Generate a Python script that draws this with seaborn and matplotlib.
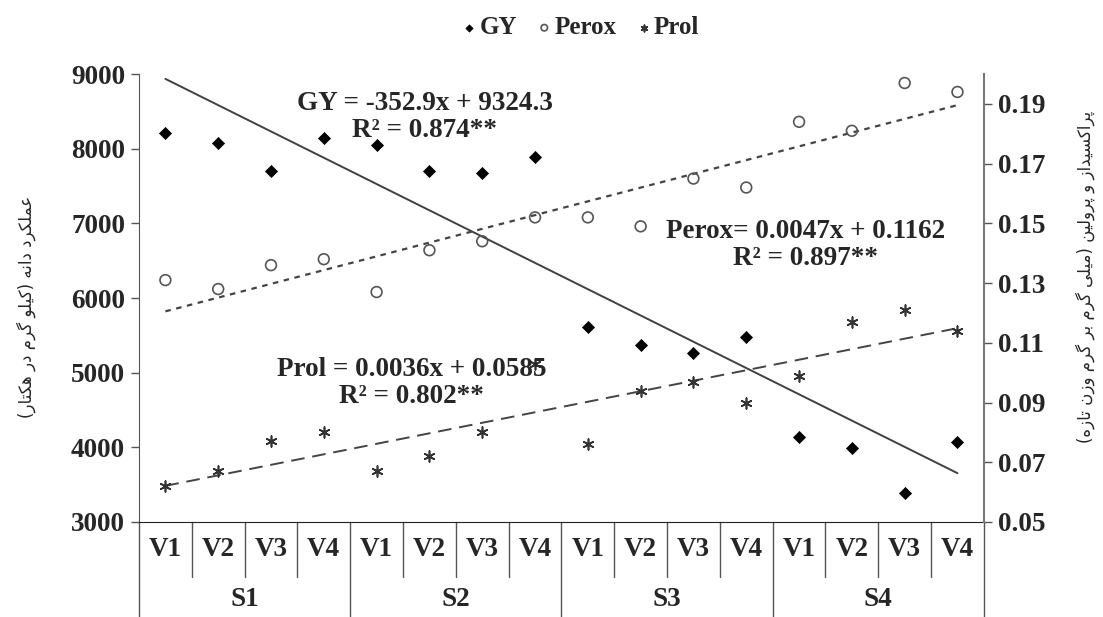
import numpy as np
import pandas as pd
import matplotlib
matplotlib.use('Agg')
import matplotlib.pyplot as plt
import seaborn as sns

# salinity levels (S) x cultivars (V)
groups = ['S1', 'S2', 'S3', 'S4']
levels = ['V1', 'V2', 'V3', 'V4']

# grain yield (kg/ha), left axis
gy = [8213, 8071, 7700, 8138, 8048, 7700, 7677, 7883,
      5609, 5367, 5260, 5475, 4134, 3987, 3383, 4067]
# peroxidase and proline, right axis
perox = [0.131, 0.128, 0.136, 0.138, 0.127, 0.141, 0.144, 0.152,
         0.152, 0.149, 0.165, 0.162, 0.184, 0.181, 0.197, 0.194]
prol = [0.062, 0.067, 0.077, 0.080, 0.067, 0.072, 0.080, 0.103,
        0.076, 0.094, 0.097, 0.090, 0.099, 0.117, 0.121, 0.114]

eq_gy = 'GY = -352.9x + 9324.3\nR² = 0.874**'
eq_perox = 'Perox= 0.0047x + 0.1162\nR² = 0.897**'
eq_prol = 'Prol = 0.0036x + 0.0585\nR² = 0.802**'

ylabel_left = 'عملکرد دانه (کیلو گرم در هکتار)'
ylabel_right = 'پراکسیداز و پرولین (میلی گرم بر گرم وزن تازه)'

# matplotlib has no arabic shaping, so pick contextual forms by hand
forms = {
    'ا': ('\uFE8D', '\uFE8E'),
    'ب': ('\uFE8F', '\uFE90', '\uFE91', '\uFE92'),
    'پ': ('\uFB56', '\uFB57', '\uFB58', '\uFB59'),
    'ت': ('\uFE95', '\uFE96', '\uFE97', '\uFE98'),
    'د': ('\uFEA9', '\uFEAA'),
    'ر': ('\uFEAD', '\uFEAE'),
    'ز': ('\uFEAF', '\uFEB0'),
    'س': ('\uFEB1', '\uFEB2', '\uFEB3', '\uFEB4'),
    'ع': ('\uFEC9', '\uFECA', '\uFECB', '\uFECC'),
    'ک': ('\uFB8E', '\uFB8F', '\uFB90', '\uFB91'),
    'گ': ('\uFB92', '\uFB93', '\uFB94', '\uFB95'),
    'ل': ('\uFEDD', '\uFEDE', '\uFEDF', '\uFEE0'),
    'م': ('\uFEE1', '\uFEE2', '\uFEE3', '\uFEE4'),
    'ن': ('\uFEE5', '\uFEE6', '\uFEE7', '\uFEE8'),
    'ه': ('\uFEE9', '\uFEEA', '\uFEEB', '\uFEEC'),
    'و': ('\uFEED', '\uFEEE'),
    'ی': ('\uFBFC', '\uFBFD', '\uFBFE', '\uFBFF'),
}


def shape_fa(s):
    out = []
    for i, c in enumerate(s):
        if c not in forms:
            out.append(c)
            continue
        prev = s[i - 1] if i > 0 else ''
        nxt = s[i + 1] if i < len(s) - 1 else ''
        join_prev = prev in forms and len(forms[prev]) == 4
        join_next = len(forms[c]) == 4 and nxt in forms
        if join_prev and join_next:
            out.append(forms[c][3])
        elif join_prev:
            out.append(forms[c][1])
        elif join_next:
            out.append(forms[c][2])
        else:
            out.append(forms[c][0])
    swap = {'(': ')', ')': '('}
    return ''.join(swap.get(c, c) for c in reversed(out))


df = pd.DataFrame({
    'x': np.arange(1, len(gy) + 1),
    'gy': gy,
    'perox': perox,
    'prol': prol,
})

sns.set_style('white')
plt.rcParams['font.family'] = ['Liberation Serif', 'DejaVu Sans']
plt.rcParams['font.weight'] = 'bold'
fs = 19.5

fig = plt.figure(figsize=(11.03, 6.17), dpi=100)
ax = fig.add_axes([0.126, 0.154, 0.766, 0.726])
ax2 = ax.twinx()

# GY on left axis
sns.scatterplot(data=df, x='x', y='gy', ax=ax, marker='D', color='black',
                edgecolor='black', s=38, label='GY', zorder=3)
sns.regplot(data=df, x='x', y='gy', ax=ax, scatter=False, ci=None,
            line_kws=dict(color='#404040', lw=1.4))

# Perox and Prol on right axis
sns.scatterplot(data=df, x='x', y='perox', ax=ax2, marker='o', color='#555555',
                edgecolor='#555555', linewidth=1.2, s=60, label='Perox', zorder=3)
ax2.collections[-1].set_facecolor('none')
sns.regplot(data=df, x='x', y='perox', ax=ax2, scatter=False, ci=None,
            line_kws=dict(color='#444444', lw=1.6, ls=(0, (2.5, 2.5))))

sns.scatterplot(data=df, x='x', y='prol', ax=ax2, marker=(6, 2, 0), color='#333333',
                linewidth=1.2, s=60, label='Prol', zorder=3)
sns.regplot(data=df, x='x', y='prol', ax=ax2, scatter=False, ci=None,
            line_kws=dict(color='#444444', lw=1.4, ls=(0, (7, 4))))

for a in (ax, ax2):
    if a.get_legend() is not None:
        a.get_legend().remove()

# axes ranges and ticks
ax.set_xlim(0.5, 16.5)
ax.set_ylim(3000, 9000)
ax.set_yticks(range(3000, 9001, 1000))
ax2.set_ylim(0.05, 0.2)
ax2.set_yticks(np.arange(0.05, 0.2, 0.02))
ax2.set_yticklabels([f'{v:.2f}' for v in np.arange(0.05, 0.2, 0.02)])

ax.set_xticks(df['x'])
ax.set_xticklabels(levels * len(groups))
ax.tick_params(axis='x', length=0, pad=11, labelsize=fs)
ax.tick_params(axis='y', direction='out', length=6, width=1, color='#555555',
               labelsize=fs, pad=4)
ax2.tick_params(axis='y', direction='out', length=6, width=1, color='#555555',
                labelsize=fs, pad=4)
ax.set_xlabel('')

for s in ['top', 'right']:
    ax.spines[s].set_visible(False)
for s in ['top', 'left', 'bottom']:
    ax2.spines[s].set_visible(False)
ax.spines['left'].set_color('#555555')
ax.spines['bottom'].set_color('#222222')
ax2.spines['right'].set_color('#777777')
ax2.spines['right'].set_linewidth(1.5)

# two-level category axis: short ticks between V, long ones between S
trans = ax.get_xaxis_transform()
for b in np.arange(0.5, 17, 1):
    y_end = -0.212 if (b - 0.5) % 4 == 0 else -0.123
    ax.plot([b, b], [0, y_end], transform=trans, clip_on=False,
            color='#555555', lw=1)
for i, g in enumerate(groups):
    ax.text(4 * i + 2.5, -0.172, g, transform=trans, ha='center', va='center',
            fontsize=fs, fontweight='bold')

# persian axis titles
ax.set_ylabel(shape_fa(ylabel_left), family='DejaVu Sans', fontweight='normal',
              fontsize=12, rotation=90)
ax.yaxis.set_label_coords(-0.122, 0.48)
ax2.set_ylabel(shape_fa(ylabel_right), family='DejaVu Sans', fontweight='normal',
               fontsize=12, rotation=90)
ax2.yaxis.set_label_coords(1.108, 0.547)

# trend equations
txt = dict(transform=ax2.transAxes, ha='center', va='center', fontsize=fs,
           fontweight='bold', linespacing=1.1, multialignment='center', zorder=5)
ax2.text(0.338, 0.904, eq_gy, **txt)
ax2.text(0.789, 0.618, eq_perox, **txt)
ax2.text(0.323, 0.310, eq_prol, **txt)

# legend on top
h1, l1 = ax.get_legend_handles_labels()
h2, l2 = ax2.get_legend_handles_labels()
fig.legend(h1 + h2, l1 + l2, loc='center', bbox_to_anchor=(0.524, 0.955),
           ncol=3, frameon=False, prop=dict(weight='bold', size=18),
           handletextpad=-0.1, columnspacing=0.6, handlelength=1.0,
           markerscale=0.6)

fig.savefig('out.png', dpi=100)
